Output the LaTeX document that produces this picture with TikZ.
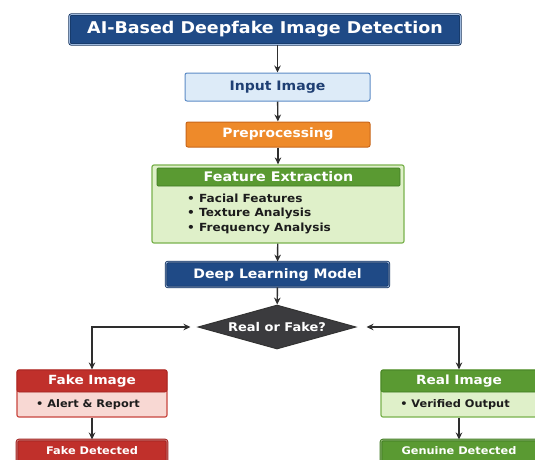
\documentclass[tikz,border=0pt]{standalone}
\usepackage{fontspec}
\setmainfont[FakeStretch=1.08]{DejaVu Sans}
\usetikzlibrary{shapes.geometric,arrows.meta}
\definecolor{navy}{HTML}{1F4A86}
\definecolor{navydark}{HTML}{14335F}
\definecolor{navylight}{HTML}{9DB8DD}
\definecolor{inputfill}{HTML}{DDEBF8}
\definecolor{inputdraw}{HTML}{5C8BC6}
\definecolor{inputtext}{HTML}{1F3F73}
\definecolor{orangefill}{HTML}{EE8A2A}
\definecolor{orangedraw}{HTML}{C9661A}
\definecolor{greenhead}{HTML}{5A9A32}
\definecolor{greendark}{HTML}{3F7A22}
\definecolor{greenbody}{HTML}{DFF0C9}
\definecolor{greendraw}{HTML}{7AB24E}
\definecolor{redhead}{HTML}{C0302B}
\definecolor{reddark}{HTML}{9E2220}
\definecolor{redbody}{HTML}{F8D8D3}
\definecolor{reddraw}{HTML}{C8463E}
\definecolor{diamondfill}{HTML}{3B3B3E}
\definecolor{arrowgray}{HTML}{2E2E2E}
\definecolor{bodytext}{HTML}{1C1C1C}
\begin{document}
\begin{tikzpicture}[x=1pt,y=-1pt,
  box/.style={rectangle, rounded corners=2pt, inner sep=0pt, font=\bfseries},
  bluebox/.style={box, fill=navy, draw=navydark, line width=0.8pt, double=navylight, double distance=0.8pt, text=white},
  headbox/.style={box, text=white},
  arr/.style={draw=arrowgray, line width=1.4pt, -{Stealth[length=7pt,width=6.5pt]}},
  darr/.style={draw=arrowgray, line width=1.4pt, {Stealth[length=7pt,width=6.5pt]}-{Stealth[length=7pt,width=6.5pt]}}
]
\clip (0,0) rectangle (535,459);
\fill[white] (0,0) rectangle (535,459);

% title
\node[bluebox, minimum width=391pt, minimum height=30pt, font=\bfseries\fontsize{16.2}{18}\selectfont] (title) at (265,29.5) {AI-Based Deepfake Image Detection};

% input
\node[box, fill=inputfill, draw=inputdraw, line width=1pt, text=inputtext, minimum width=185pt, minimum height=28pt, font=\bfseries\fontsize{13}{15}\selectfont] (input) at (277.5,87) {Input Image};

% preprocessing
\node[box, fill=orangefill, draw=orangedraw, line width=1pt, text=white, minimum width=184pt, minimum height=25pt, font=\bfseries\fontsize{12.8}{15}\selectfont] (pre) at (278,134.5) {Preprocessing};

% feature extraction
\node[box, fill=greenbody, draw=greendraw, line width=1.2pt, minimum width=252pt, minimum height=78pt] (feat) at (278,204) {};
\node[headbox, fill=greenhead, draw=greendark, line width=0.6pt, rounded corners=1pt, minimum width=243pt, minimum height=18pt, font=\bfseries\fontsize{13.2}{15}\selectfont] (feathead) at (278.5,177) {Feature Extraction};
\node[inner sep=0pt, anchor=west, align=left, text=bodytext, font=\bfseries\fontsize{11.2}{14.5}\selectfont] (featlist) at (187,213.5) {• Facial Features\\• Texture Analysis\\• Frequency Analysis};

% deep learning model
\node[bluebox, minimum width=223pt, minimum height=25pt, font=\bfseries\fontsize{13}{15}\selectfont] (dlm) at (277.5,274.5) {Deep Learning Model};

% decision
\node[diamond, aspect=3.6, fill=diamondfill, draw=black!80, line width=1pt, inner sep=0pt, minimum width=158pt, minimum height=44pt, text=white, font=\bfseries\fontsize{12}{14}\selectfont] (dec) at (277,327) {Real or Fake?};

% fake branch
\node[box, fill=redbody, draw=reddraw, line width=1.2pt, minimum width=150pt, minimum height=47pt] (fake) at (92,393.5) {};
\node[headbox, fill=redhead, draw=reddark, line width=0.6pt, minimum width=150pt, minimum height=22pt, font=\bfseries\fontsize{12.6}{14}\selectfont] (fakehead) at (92,381) {Fake Image};
\node[inner sep=0pt, text=bodytext, font=\bfseries\fontsize{10.5}{12}\selectfont] (fakebody) at (88,405) {• Alert \& Report};
\node[headbox, fill=redhead, draw=reddark, line width=1pt, double=redbody!60!redhead, double distance=0.6pt, minimum width=150pt, minimum height=30pt, font=\bfseries\fontsize{10.5}{13}\selectfont] (fakedet) at (92,455) {\raisebox{8.5pt}{Fake Detected}};

% real branch
\node[box, fill=greenbody, draw=greendraw, line width=1.2pt, minimum width=156pt, minimum height=47pt] (real) at (459,393.5) {};
\node[headbox, fill=greenhead, draw=greendark, line width=0.6pt, minimum width=156pt, minimum height=22pt, font=\bfseries\fontsize{12.6}{14}\selectfont] (realhead) at (459,381) {Real Image};
\node[inner sep=0pt, text=bodytext, font=\bfseries\fontsize{10.5}{12}\selectfont] (realbody) at (455,405) {• Verified Output};
\node[headbox, fill=greenhead, draw=greendark, line width=1pt, double=greenbody!60!greenhead, double distance=0.6pt, minimum width=156pt, minimum height=30pt, font=\bfseries\fontsize{10.5}{13}\selectfont] (gen) at (459,455) {\raisebox{8.5pt}{Genuine Detected}};

% connectors
\draw[arr] (title.south -| input.north) -- (input);
\draw[arr] (input) -- (pre);
\draw[arr] (pre) -- (feat);
\draw[arr] (feat) -- (dlm);
\draw[arr] (dlm) -- (dec);
\draw[darr, shorten <=7pt] (dec.west) -| (fake.north);
\draw[darr, shorten <=10pt] (dec.east) -| (real.north);
\draw[arr] (fake) -- (fakedet);
\draw[arr] (real) -- (gen);
\end{tikzpicture}
\end{document}
